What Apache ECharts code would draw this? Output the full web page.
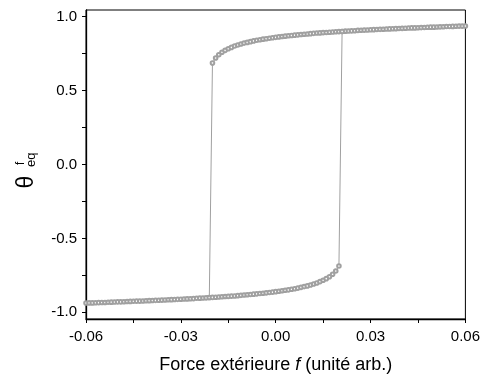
<!DOCTYPE html>
<html>
<head>
<meta charset="utf-8">
<script src="https://cdn.jsdelivr.net/npm/echarts@6/dist/echarts.min.js"></script>
<style>
  html, body { margin: 0; padding: 0; background: #fff; }
  #chart { width: 483px; height: 379px; }
</style>
</head>
<body>
<div id="chart"></div>
<script>
// branche haute (f croissant de -0.020 a 0.060)
const fUpper = [
  -0.020, -0.019, -0.018, -0.017, -0.016, -0.015, -0.014, -0.013, -0.012, -0.011,
  -0.010, -0.009, -0.008, -0.007, -0.006, -0.005, -0.004, -0.003, -0.002, -0.001,
  0.000, 0.001, 0.002, 0.003, 0.004, 0.005, 0.006, 0.007, 0.008, 0.009,
  0.010, 0.011, 0.012, 0.013, 0.014, 0.015, 0.016, 0.017, 0.018, 0.019,
  0.020, 0.021, 0.022, 0.023, 0.024, 0.025, 0.026, 0.027, 0.028, 0.029,
  0.030, 0.031, 0.032, 0.033, 0.034, 0.035, 0.036, 0.037, 0.038, 0.039,
  0.040, 0.041, 0.042, 0.043, 0.044, 0.045, 0.046, 0.047, 0.048, 0.049,
  0.050, 0.051, 0.052, 0.053, 0.054, 0.055, 0.056, 0.057, 0.058, 0.059,
  0.060
]
const thetaUpper = [
  0.687, 0.720, 0.742, 0.759, 0.772, 0.783, 0.792, 0.801, 0.808, 0.815,
  0.821, 0.826, 0.831, 0.836, 0.840, 0.844, 0.848, 0.851, 0.854, 0.857,
  0.860, 0.863, 0.866, 0.868, 0.871, 0.873, 0.875, 0.877, 0.879, 0.881,
  0.883, 0.885, 0.887, 0.889, 0.890, 0.892, 0.893, 0.895, 0.896, 0.898,
  0.899, 0.900, 0.902, 0.903, 0.904, 0.905, 0.907, 0.908, 0.909, 0.910,
  0.911, 0.912, 0.913, 0.914, 0.915, 0.916, 0.917, 0.918, 0.919, 0.920,
  0.921, 0.922, 0.923, 0.924, 0.924, 0.925, 0.926, 0.927, 0.928, 0.929,
  0.929, 0.930, 0.931, 0.932, 0.933, 0.933, 0.934, 0.935, 0.936, 0.936,
  0.937
]

// branche basse (f croissant de -0.060 a 0.020)
const fLower = [
  -0.060, -0.059, -0.058, -0.057, -0.056, -0.055, -0.054, -0.053, -0.052, -0.051,
  -0.050, -0.049, -0.048, -0.047, -0.046, -0.045, -0.044, -0.043, -0.042, -0.041,
  -0.040, -0.039, -0.038, -0.037, -0.036, -0.035, -0.034, -0.033, -0.032, -0.031,
  -0.030, -0.029, -0.028, -0.027, -0.026, -0.025, -0.024, -0.023, -0.022, -0.021,
  -0.020, -0.019, -0.018, -0.017, -0.016, -0.015, -0.014, -0.013, -0.012, -0.011,
  -0.010, -0.009, -0.008, -0.007, -0.006, -0.005, -0.004, -0.003, -0.002, -0.001,
  0.000, 0.001, 0.002, 0.003, 0.004, 0.005, 0.006, 0.007, 0.008, 0.009,
  0.010, 0.011, 0.012, 0.013, 0.014, 0.015, 0.016, 0.017, 0.018, 0.019,
  0.020
]
const thetaLower = [
  -0.937, -0.936, -0.936, -0.935, -0.934, -0.933, -0.933, -0.932, -0.931, -0.930,
  -0.929, -0.929, -0.928, -0.927, -0.926, -0.925, -0.924, -0.924, -0.923, -0.922,
  -0.921, -0.920, -0.919, -0.918, -0.917, -0.916, -0.915, -0.914, -0.913, -0.912,
  -0.911, -0.910, -0.909, -0.908, -0.907, -0.905, -0.904, -0.903, -0.902, -0.900,
  -0.899, -0.898, -0.896, -0.895, -0.893, -0.892, -0.890, -0.889, -0.887, -0.885,
  -0.883, -0.881, -0.879, -0.877, -0.875, -0.873, -0.871, -0.868, -0.866, -0.863,
  -0.860, -0.857, -0.854, -0.851, -0.848, -0.844, -0.840, -0.836, -0.831, -0.826,
  -0.821, -0.815, -0.808, -0.801, -0.792, -0.783, -0.772, -0.759, -0.742, -0.720,
  -0.687
]

// graduations
const xTicks = [-0.06, -0.045, -0.03, -0.015, 0, 0.015, 0.03, 0.045, 0.06]
const xLabels = [-0.06, -0.03, 0, 0.03, 0.06]
const yTicks = [-1, -0.75, -0.5, -0.25, 0, 0.25, 0.5, 0.75, 1]
const yLabels = [-1, -0.5, 0, 0.5, 1]

// points de saut (basculements)
const jumpDown = fLower.indexOf(-0.021)
const jumpUp = fUpper.indexOf(0.021)

const upperData = [[fLower[jumpDown], thetaLower[jumpDown]]]
  .concat(fUpper.map((f, i) => [f, thetaUpper[i]]))
const lowerData = fLower.map((f, i) => [f, thetaLower[i]])
  .concat([[fUpper[jumpUp], thetaUpper[jumpUp]]])

const FONT = 'Arial, "Liberation Sans", sans-serif'

const chart = echarts.init(document.getElementById('chart'))

const branchStyle = {
  type: 'line',
  showAllSymbol: true,
  symbol: 'emptyCircle',
  symbolSize: 3.6,
  lineStyle: { color: '#a0a0a0', width: 1 },
  itemStyle: { color: '#a0a0a0', borderWidth: 0.5 },
  emphasis: { disabled: true },
  animation: false
}

chart.setOption({
  animation: false,
  grid: {
    left: 86,
    right: 14,
    top: 10,
    bottom: 58,
    show: true,
    borderColor: '#000',
    borderWidth: 1
  },
  xAxis: {
    type: 'value',
    min: -0.06,
    max: 0.06,
    name: 'Force extérieure {i|f} (unité arb.)',
    nameLocation: 'middle',
    nameGap: 37,
    nameTextStyle: {
      fontFamily: FONT,
      fontSize: 18,
      color: '#000',
      rich: {
        i: { fontFamily: FONT, fontSize: 18, fontStyle: 'italic', color: '#000' }
      }
    },
    axisLine: { onZero: false, lineStyle: { color: '#000', width: 1.3 } },
    axisTick: { customValues: xTicks, length: 4, lineStyle: { color: '#000' } },
    axisLabel: {
      customValues: xLabels,
      margin: 10,
      fontFamily: FONT,
      fontSize: 15,
      color: '#000',
      formatter: v => v.toFixed(2)
    },
    splitLine: { show: false }
  },
  yAxis: {
    type: 'value',
    min: -1.045,
    max: 1.045,
    axisLine: { show: true, onZero: false, lineStyle: { color: '#000', width: 1.3 } },
    axisTick: { show: true, customValues: yTicks, length: 4, lineStyle: { color: '#000' } },
    axisLabel: {
      customValues: yLabels,
      margin: 9,
      fontFamily: FONT,
      fontSize: 15,
      color: '#000',
      formatter: v => v.toFixed(1)
    },
    splitLine: { show: false }
  },
  graphic: [
    {
      type: 'group',
      x: 27,
      y: 182,
      rotation: Math.PI / 2,
      children: [
        {
          type: 'text',
          x: 0, y: 0,
          style: { text: 'θ', fontFamily: FONT, fontSize: 23, fill: '#000', align: 'center', verticalAlign: 'middle' }
        },
        {
          type: 'text',
          x: 17, y: -6,
          style: { text: 'f', fontFamily: FONT, fontSize: 12, fill: '#000', align: 'left', verticalAlign: 'middle' }
        },
        {
          type: 'text',
          x: 15, y: 4,
          style: { text: 'eq', fontFamily: FONT, fontSize: 13, fill: '#000', align: 'left', verticalAlign: 'middle' }
        }
      ]
    }
  ],
  series: [
    Object.assign({ name: 'branche haute', data: upperData }, branchStyle),
    Object.assign({ name: 'branche basse', data: lowerData }, branchStyle)
  ]
})
</script>
</body>
</html>
